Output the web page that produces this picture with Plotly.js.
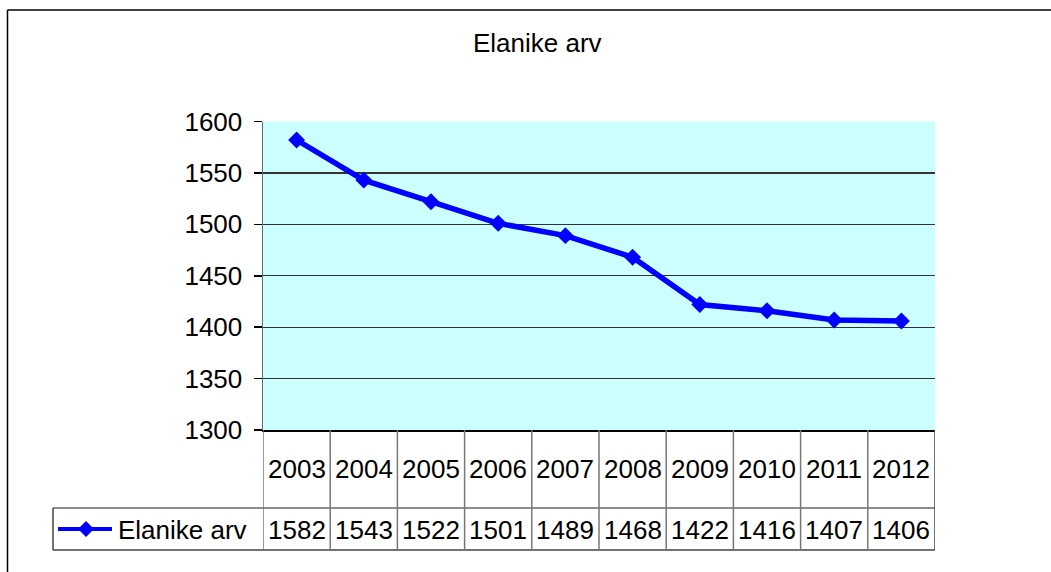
<!DOCTYPE html>
<html>
<head>
<meta charset="utf-8">
<script src="https://cdn.plot.ly/plotly-3.0.1.min.js"></script>
<style>html,body{margin:0;padding:0;background:#fff;}#chart{width:1051px;height:572px;}</style>
</head>
<body>
<div id="chart"></div>
<script>
var years = ['2003','2004','2005','2006','2007','2008','2009','2010','2011','2012'];
var population = [1582,1543,1522,1501,1489,1468,1422,1416,1407,1406];
var seriesName = 'Elanike arv';
var chartTitle = 'Elanike arv';
var yTicks = [1300,1350,1400,1450,1500,1550,1600];

var W = 1051, H = 572;
var plotL = 263, plotR = 935, plotT = 121.5, plotB = 430;
var row1B = 508, row2B = 550, legL = 53;
var FONT = 'Arial, "Liberation Sans", sans-serif';
var BLUE = '#0000ff';
function px(x) { return x / W; }
function py(y) { return (H - y) / H; }

var traces = [
  {
    x: years, y: population, type: 'scatter', mode: 'lines+markers',
    name: seriesName,
    line: {color: BLUE, width: 5.5},
    marker: {symbol: 'diamond', size: 13, color: BLUE},
    hoverinfo: 'x+y'
  }
];

var shapes = [];
function ln(x0, y0, x1, y1, c, w) {
  shapes.push({type: 'line', xref: 'paper', yref: 'paper', x0: px(x0), y0: py(y0), x1: px(x1), y1: py(y1),
    line: {color: c, width: w}});
}
// outer chart frame
ln(7.5, 10, 1060, 10, '#000', 1.5);
ln(7.5, 10, 7.5, 580, '#000', 1.5);
// data table
ln(legL, row1B, plotR, row1B, '#666', 1.5);
ln(legL, row2B, plotR, row2B, '#444', 1.5);
ln(legL, row1B, legL, row2B, '#444', 1.5);
for (var i = 0; i <= years.length; i++) {
  shapes.push({type: 'line', xref: 'x', yref: 'paper', x0: i - 0.5, x1: i - 0.5, y0: py(plotB), y1: py(row2B),
    line: {color: (i === years.length) ? '#444' : '#777', width: 1.5}});
}
// legend key in the table
ln(58, 529, 112, 529, BLUE, 4);
var cx = 86, cy = 529, d = 8;
shapes.push({type: 'path', xref: 'paper', yref: 'paper',
  path: 'M' + px(cx - d) + ',' + py(cy) + ' L' + px(cx) + ',' + py(cy - d) + ' L' + px(cx + d) + ',' + py(cy) +
        ' L' + px(cx) + ',' + py(cy + d) + ' Z',
  fillcolor: BLUE, line: {color: BLUE, width: 0}});

var annotations = [];
annotations.push({xref: 'paper', yref: 'paper', x: px(537), y: py(43), text: chartTitle, showarrow: false,
  xanchor: 'center', yanchor: 'middle', font: {family: FONT, size: 26, color: '#000'}});
annotations.push({xref: 'paper', yref: 'paper', x: px(116), y: py(530), text: seriesName, showarrow: false,
  xanchor: 'left', yanchor: 'middle', font: {family: FONT, size: 26, color: '#000'}});
for (var j = 0; j < years.length; j++) {
  annotations.push({xref: 'x', yref: 'paper', x: j, y: py(469), text: years[j], showarrow: false,
    xanchor: 'center', yanchor: 'middle', font: {family: FONT, size: 26, color: '#000'}});
  annotations.push({xref: 'x', yref: 'paper', x: j, y: py(530), text: String(population[j]), showarrow: false,
    xanchor: 'center', yanchor: 'middle', font: {family: FONT, size: 26, color: '#000'}});
}

var layout = {
  width: W, height: H,
  margin: {l: 0, r: 0, t: 0, b: 0, pad: 0},
  paper_bgcolor: '#ffffff',
  plot_bgcolor: '#ccffff',
  showlegend: false,
  font: {family: FONT, size: 26, color: '#000'},
  xaxis: {
    type: 'category', domain: [px(plotL), px(plotR)], range: [-0.5, years.length - 0.5],
    showticklabels: false, ticks: '', showgrid: false, zeroline: false,
    showline: true, linecolor: '#000', linewidth: 1.5, fixedrange: true
  },
  yaxis: {
    domain: [py(plotB), py(plotT)], range: [1300, 1600],
    tickvals: yTicks, ticktext: yTicks.map(String),
    ticks: 'outside', ticklen: 8, tickcolor: '#000', tickwidth: 1.5,
    ticklabelstandoff: 6,
    tickfont: {family: FONT, size: 26, color: '#000'},
    showgrid: true, gridcolor: '#333333', gridwidth: 1.2,
    zeroline: false, showline: true, linecolor: '#607070', linewidth: 1.5, fixedrange: true
  },
  shapes: shapes,
  annotations: annotations
};

Plotly.newPlot('chart', traces, layout, {displayModeBar: false, staticPlot: true});
</script>
</body>
</html>
